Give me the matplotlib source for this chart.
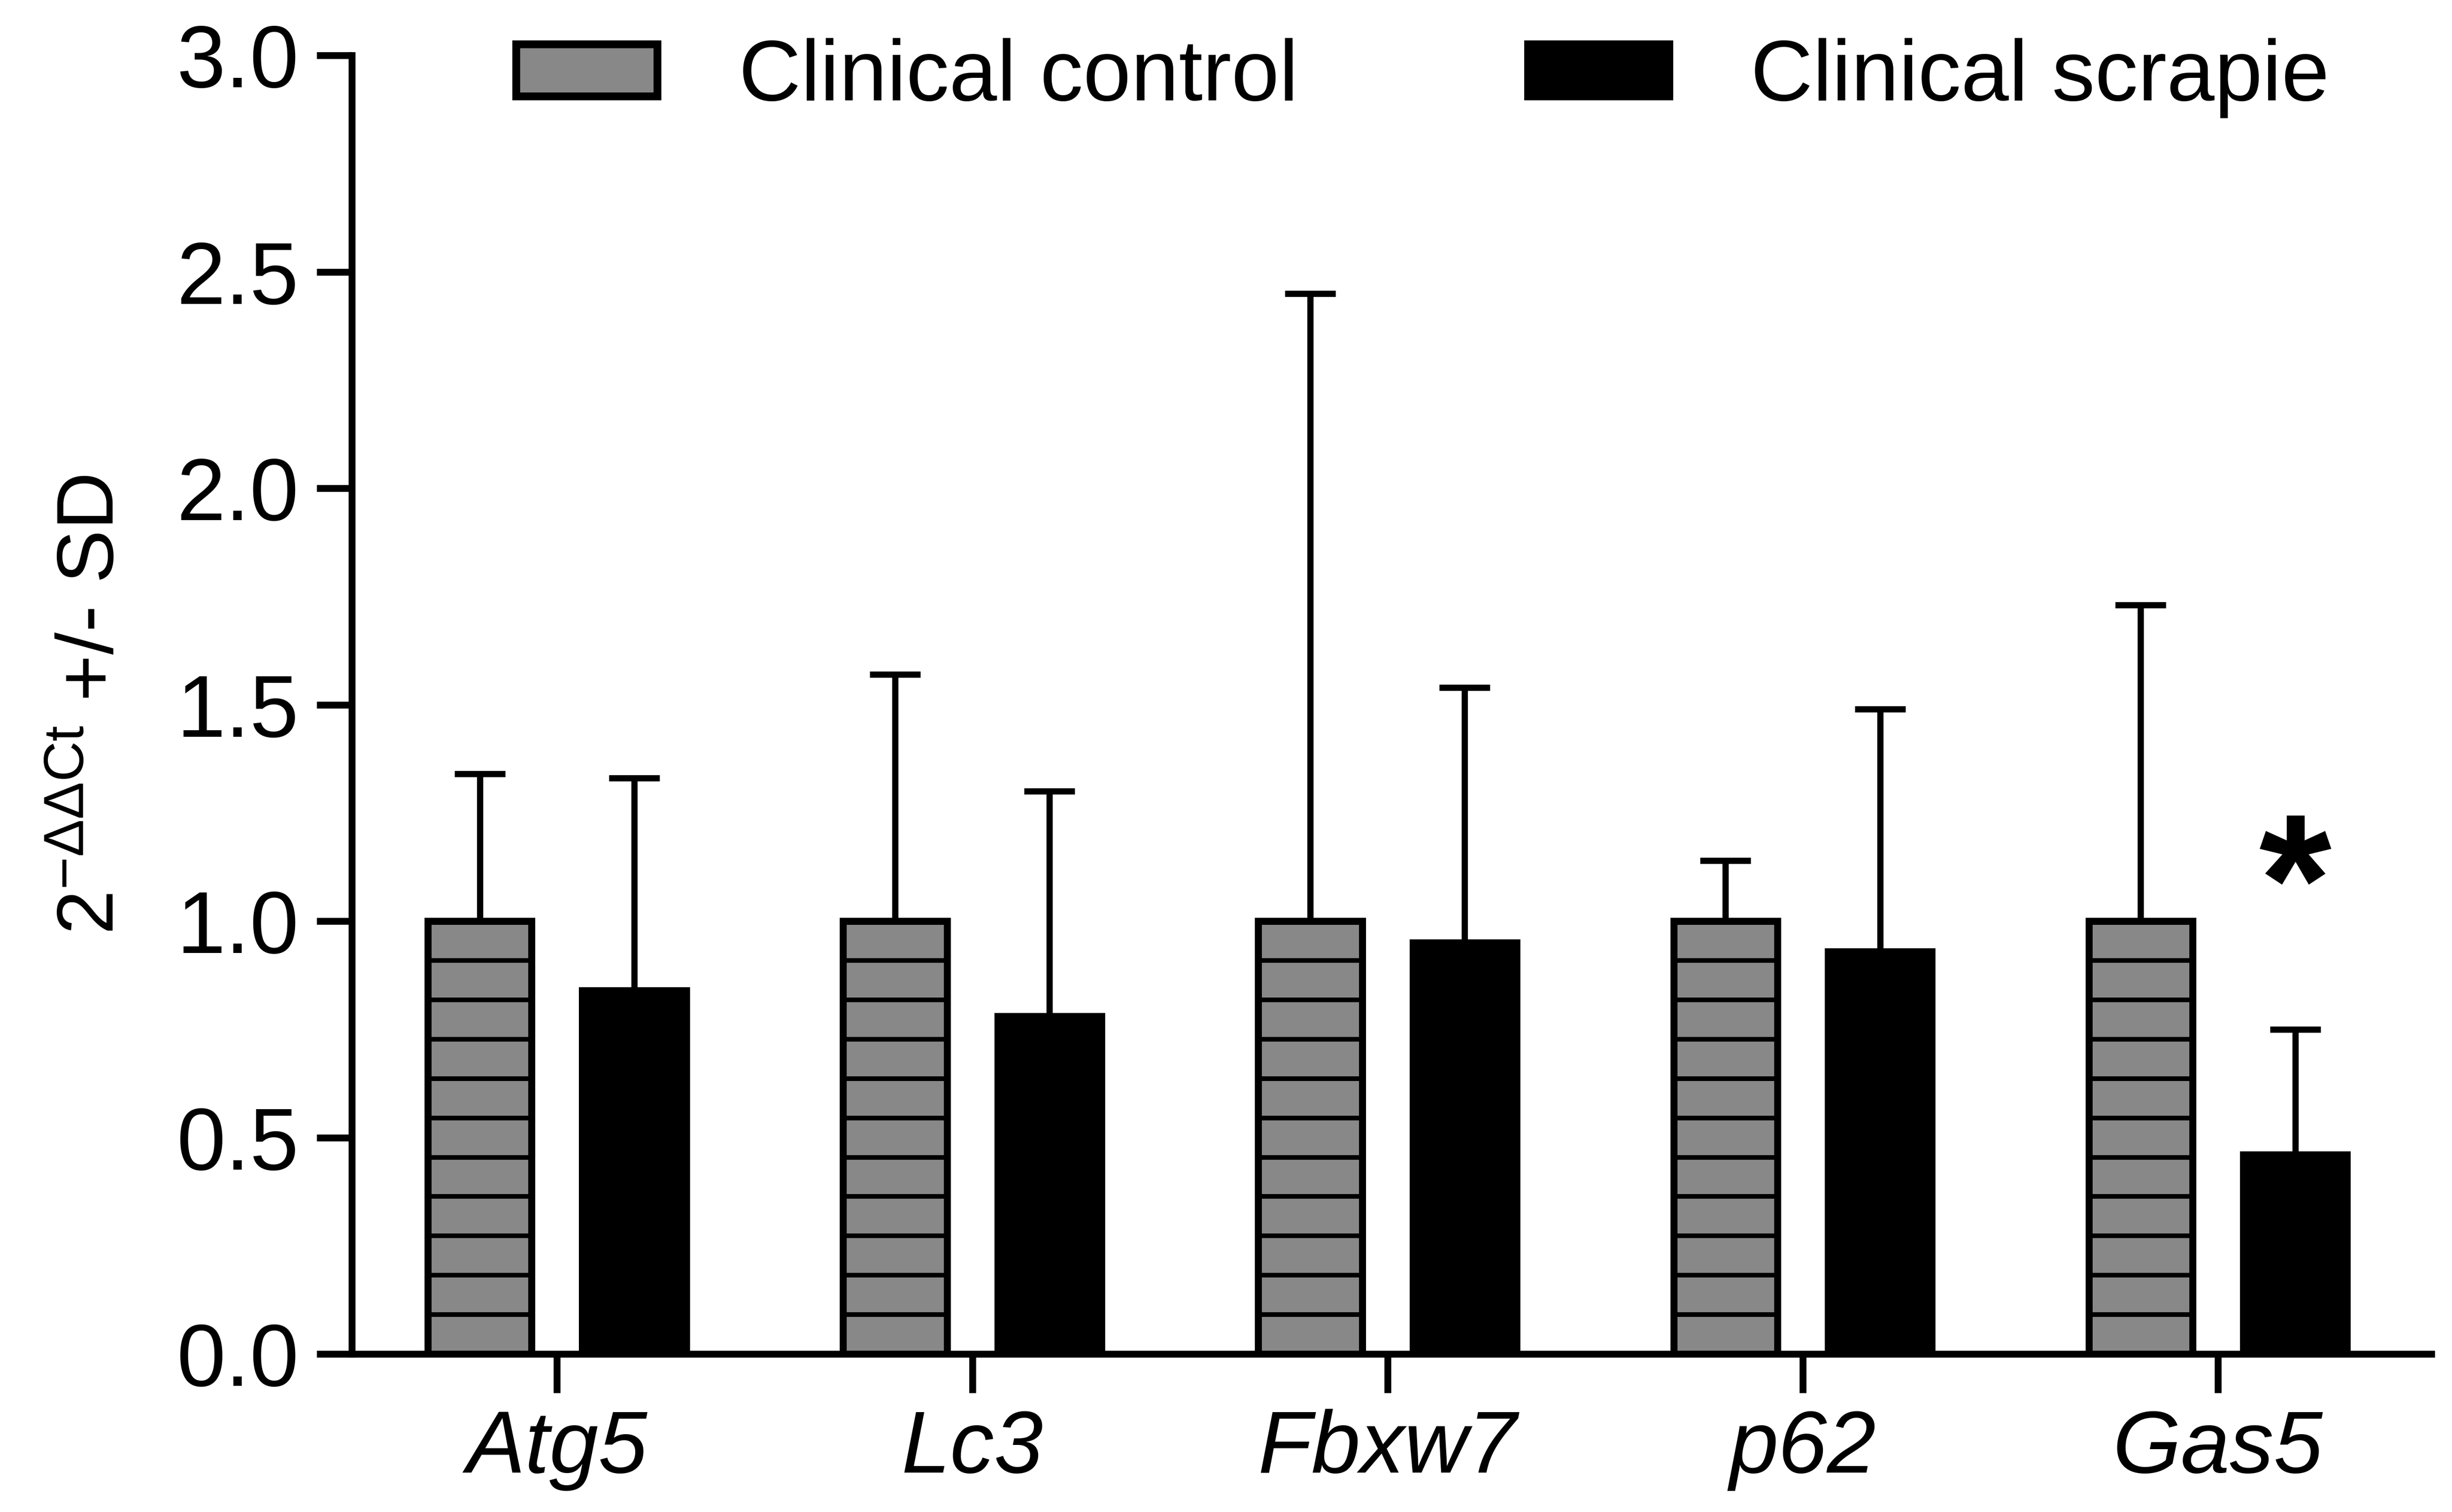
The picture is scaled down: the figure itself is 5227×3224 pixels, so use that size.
import numpy as np
import matplotlib
matplotlib.use("Agg")
import matplotlib.pyplot as plt
import matplotlib.patches as mpatches

plt.rcParams['font.family'] = ['Liberation Sans', 'DejaVu Sans']
plt.rcParams['mathtext.fontset'] = 'custom'
plt.rcParams['mathtext.rm'] = 'Liberation Sans'
plt.rcParams['mathtext.it'] = 'Liberation Sans:italic'

# data
genes = ['Atg5', 'Lc3', 'Fbxw7', 'p62', 'Gas5']
control_mean = [1.0, 1.0, 1.0, 1.0, 1.0]
control_sd = [0.34, 0.57, 1.45, 0.14, 0.73]
scrapie_mean = [0.84, 0.78, 0.95, 0.93, 0.46]
scrapie_sd = [0.49, 0.52, 0.59, 0.56, 0.29]
significant = [False, False, False, False, True]

x = np.arange(len(genes))
width = 0.25
offset = 0.186
gray = '#888888'

fig = plt.figure(figsize=(5227 / 300, 3224 / 300), dpi=300)
ax = fig.add_axes([0.1435, 0.1045, 0.9916 - 0.1435, 0.9634 - 0.1045])

xc = x - offset
xs = x + offset

# error bars first (upper only)
ax.errorbar(xc, control_mean, yerr=[np.zeros(len(x)), control_sd], fmt='none',
            ecolor='black', elinewidth=3.2, capsize=13, capthick=3.2, zorder=1)
ax.errorbar(xs, scrapie_mean, yerr=[np.zeros(len(x)), scrapie_sd], fmt='none',
            ecolor='black', elinewidth=3.2, capsize=13, capthick=3.2, zorder=1)

ax.bar(xc, control_mean, width, color=gray, edgecolor='black', linewidth=3.6, zorder=2)
# horizontal stripes inside the control bars
for xi, m in zip(xc, control_mean):
    ys = np.linspace(0, m, 12)[1:-1]
    ax.hlines(ys, xi - width / 2, xi + width / 2, colors='black', linewidth=2.4, zorder=3)
ax.bar(xc, control_mean, width, color='none', edgecolor='black', linewidth=3.6, zorder=4)
ax.bar(xs, scrapie_mean, width, color='black', edgecolor='black', linewidth=3.6, zorder=2)

for xi, m, s, sig in zip(xs, scrapie_mean, scrapie_sd, significant):
    if sig:
        ax.text(xi, 1.06, '*', ha='center', va='center', fontsize=95,
                fontweight='bold', zorder=5)

ax.set_xlim(-0.494, 4.514)
ax.set_ylim(0, 3.0)
ax.set_yticks(np.arange(0, 3.01, 0.5))
ax.set_yticklabels(['%.1f' % v for v in np.arange(0, 3.01, 0.5)])
ax.set_xticks(x)
ax.set_xticklabels(genes, fontstyle='italic')

for side in ['top', 'right']:
    ax.spines[side].set_visible(False)
for side in ['left', 'bottom']:
    ax.spines[side].set_linewidth(3.5)

ax.tick_params(axis='y', length=18, width=3.5, labelsize=45, pad=9, direction='out')
ax.tick_params(axis='x', length=20, width=3.5, labelsize=45, pad=8, direction='out')

ax.set_ylabel(r'$2^{\mathrm{-\Delta\Delta Ct}}$ +/- SD', fontsize=41, labelpad=24)

h1 = mpatches.Patch(facecolor=gray, edgecolor='black', linewidth=4, label='Clinical control')
h2 = mpatches.Patch(facecolor='black', edgecolor='black', linewidth=4, label='Clinical scrapie')
fig.legend(handles=[h1, h2], loc='center left', bbox_to_anchor=(1100 / 5227, 1 - 167 / 3224),
           ncol=2, frameon=False, fontsize=44, handlelength=1.64, handleheight=0.55,
           handletextpad=0.95, columnspacing=2.67, borderpad=0, borderaxespad=0)

fig.savefig('out.png', dpi=300)
